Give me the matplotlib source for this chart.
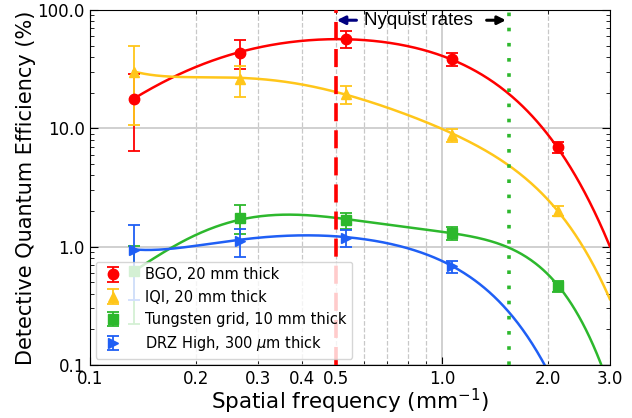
import numpy as np
import matplotlib
matplotlib.use("Agg")
import matplotlib.pyplot as plt
from matplotlib.ticker import FixedLocator, FixedFormatter, LogLocator, NullFormatter

# measured points (spatial frequency in mm^-1, DQE in %)
freq = [0.1333, 0.2667, 0.5333, 1.0667, 2.1333]
bgo = [17.6, 43.6, 57.0, 38.4, 6.9]
bgo_err = [11.2, 12.0, 9.5, 4.8, 0.7]
iqi = [30.0, 26.0, 19.5, 8.8, 2.0]
iqi_err = [19.4, 7.5, 3.3, 1.15, 0.2]
tung = [0.62, 1.75, 1.67, 1.30, 0.463]
tung_err = [0.40, 0.48, 0.25, 0.16, 0.05]
drz = [0.944, 1.11, 1.18, 0.683]
drz_err = [0.59, 0.30, 0.19, 0.08]

# fitted curves, sampled off the figure
bgo_fx = [0.133, 0.176, 0.2, 0.266, 0.3, 0.347, 0.5, 0.533, 1.06, 1.28, 1.61, 1.96, 2.11, 3.0]
bgo_fy = [17.6, 28.3, 33.3, 43.6, 46.6, 52.5, 57.5, 57.2, 38.4, 28.8, 17.4, 10.0, 7.0, 1.0]
iqi_fx = [0.133, 0.176, 0.2, 0.266, 0.3, 0.347, 0.5, 0.924, 1.28, 1.55, 2.0, 2.13, 3.0]
iqi_fy = [29.8, 28.3, 27.4, 26.0, 25.3, 24.6, 21.8, 10.7, 6.8, 4.85, 2.5, 2.05, 0.357]
tung_fx = [0.133, 0.2, 0.266, 0.328, 0.5, 0.924, 1.066, 1.28, 1.55, 2.0, 2.13, 2.84]
tung_fy = [0.62, 1.21, 1.75, 1.86, 1.71, 1.36, 1.30, 1.20, 1.0, 0.57, 0.47, 0.1]
drz_fx = [0.133, 0.163, 0.2, 0.266, 0.5, 0.7, 0.924, 1.0, 1.066, 1.28, 1.55, 1.78, 1.95]
drz_fy = [0.944, 0.95, 1.04, 1.11, 1.22, 1.12, 0.82, 0.74, 0.683, 0.478, 0.288, 0.164, 0.1]

nyq1 = 0.5
nyq2 = 1.55

labels = ["BGO, 20 mm thick", "IQI, 20 mm thick",
          "Tungsten grid, 10 mm thick", r"DRZ High, 300 $\mu$m thick"]
colors = ["#ff0000", "#ffc61a", "#2db82d", "#1f5ff5"]
markers = ["o", "^", "s", ">"]


def fit_curve(fx, fy, x_end, deg=5):
    lx = np.log10(fx)
    p = np.polyfit(lx, np.log10(fy), deg)
    xs = np.linspace(lx[0], np.log10(x_end), 400)
    return 10 ** xs, 10 ** np.polyval(p, xs)


fig, ax = plt.subplots(figsize=(6.32, 4.18), dpi=100)
fig.subplots_adjust(left=0.142, right=0.965, top=0.976, bottom=0.127)

ax.set_xscale("log")
ax.set_yscale("log")

curves = [(bgo_fx, bgo_fy), (iqi_fx, iqi_fy), (tung_fx, tung_fy), (drz_fx, drz_fy)]
series = [(bgo, bgo_err), (iqi, iqi_err), (tung, tung_err), (drz, drz_err)]
for (fx, fy), (vals, errs), c, m, lab in zip(curves, series, colors, markers, labels):
    cx, cy = fit_curve(fx, fy, 3.0)
    ax.plot(cx, cy, color=c, lw=1.8, zorder=2)
    ax.errorbar(freq[:len(vals)], vals, yerr=errs, fmt=m, color=c, ms=7.5,
                capsize=4, elinewidth=1.3, capthick=1.3, label=lab, zorder=3)

ax.axvline(nyq1, color="#ff0000", ls=(0, (5, 2.5)), lw=2.6, zorder=4)
ax.axvline(nyq2, color="#2db82d", ls=(0, (1, 3.2)), lw=2.6, zorder=4)

ax.annotate("", xy=(0.503, 82), xytext=(0.572, 82),
            arrowprops=dict(arrowstyle="-|>", color="navy", lw=2.2,
                            mutation_scale=12, shrinkA=0, shrinkB=0))
ax.annotate("", xy=(1.52, 82), xytext=(1.34, 82),
            arrowprops=dict(arrowstyle="-|>", color="black", lw=2.2,
                            mutation_scale=12, shrinkA=0, shrinkB=0))
ax.text(0.602, 82, "Nyquist rates", va="center", ha="left", fontsize=13.5,
        family="Liberation Sans")

ax.set_xlim(0.1, 3.0)
ax.set_ylim(0.1, 100)

ax.xaxis.set_major_locator(FixedLocator([0.1, 1.0]))
ax.xaxis.set_major_formatter(FixedFormatter(["0.1", "1.0"]))
minor_x = [0.2, 0.3, 0.4, 0.5, 0.6, 0.7, 0.8, 0.9, 2.0, 3.0]
minor_lab = ["0.2", "0.3", "0.4", "0.5", "", "", "", "", "2.0", "3.0"]
ax.xaxis.set_minor_locator(FixedLocator(minor_x))
ax.xaxis.set_minor_formatter(FixedFormatter(minor_lab))

ax.yaxis.set_major_locator(FixedLocator([0.1, 1, 10, 100]))
ax.yaxis.set_major_formatter(FixedFormatter(["0.1", "1.0", "10.0", "100.0"]))
ax.yaxis.set_minor_locator(LogLocator(base=10, subs=np.arange(2, 10)))
ax.yaxis.set_minor_formatter(NullFormatter())

ax.tick_params(which="both", direction="in", top=True, right=True, labelsize=12)
ax.tick_params(which="major", length=6)
ax.tick_params(which="minor", length=3)

ax.grid(True, which="major", color="#c8c8c8", ls="-", lw=1.2)
ax.grid(True, which="minor", axis="x", color="#c8c8c8", ls="--", lw=0.9)
ax.set_axisbelow(True)

ax.set_xlabel(r"Spatial frequency (mm$^{-1}$)", fontsize=15.5, labelpad=-1)
ax.set_ylabel("Detective Quantum Efficiency (%)", fontsize=15, labelpad=1)

ax.legend(loc="lower left", fontsize=10.5, numpoints=1, borderaxespad=0.4,
          handlelength=1.6, handletextpad=1.4)

plt.savefig("out.png", dpi=100)
